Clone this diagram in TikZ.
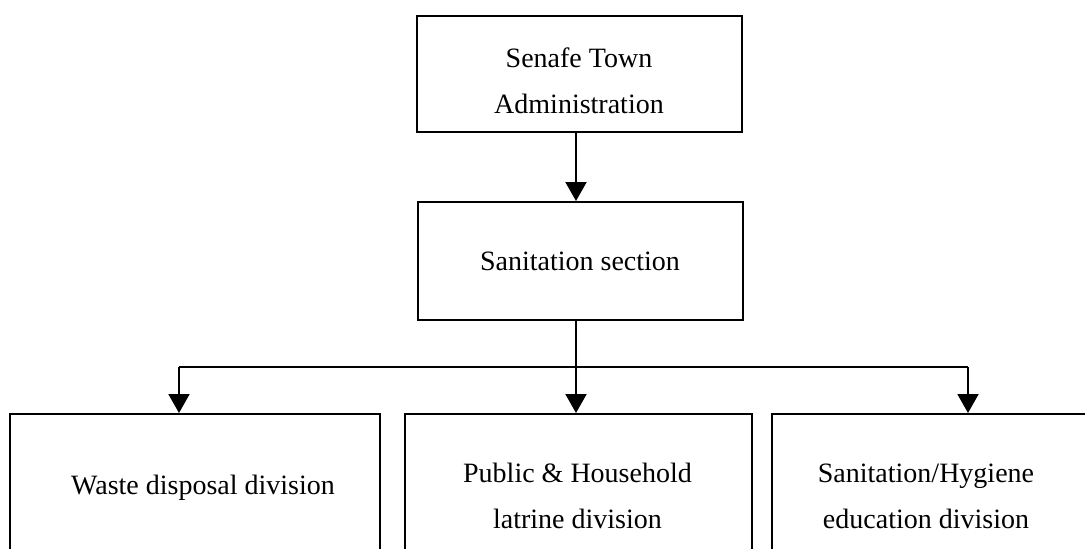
\documentclass[tikz,border=0pt]{standalone}
\usepackage{fontspec}
\setmainfont{Liberation Serif}
\usetikzlibrary{arrows.meta}
\tikzset{
  box/.style={draw=black, line width=2pt, rectangle, inner sep=0pt},
  lbl/.style={font=\fontsize{28}{46}\selectfont, align=center, anchor=base, inner sep=0pt},
  conn/.style={draw=black, line width=2pt},
  arr/.style={conn, -{Triangle[width=21pt,length=19pt]}}
}
\begin{document}
\begin{tikzpicture}[x=1pt,y=-1pt]
\useasboundingbox (0,0) rectangle (1085,549);
\clip (0,0) rectangle (1085,549);
\fill[white] (0,0) rectangle (1085,549);
% boxes
\node[box, minimum width=325pt, minimum height=116pt] (adm) at (579.5,74) {};
\node[box, minimum width=325pt, minimum height=118pt] (san) at (580.5,261) {};
\node[box, minimum width=370pt, minimum height=190pt] (waste) at (195,509) {};
\node[box, minimum width=347pt, minimum height=190pt] (latr) at (578.5,509) {};
\node[box, minimum width=323pt, minimum height=190pt] (edu) at (933.5,509) {};
% texts (anchor = baseline of the last line)
\node[lbl] (tadm) at (579,113) {Senafe Town\\Administration};
\node[lbl] (tsan) at (580,270) {Sanitation section};
\node[lbl] (twaste) at (203,494) {Waste disposal division};
\node[lbl] (tlatr) at (577.5,528) {Public \& Household\\latrine division};
\node[lbl] (tedu) at (926,528) {Sanitation/Hygiene\\education division};
% connector coordinates
\coordinate (xa) at (576,0);
\coordinate (jn) at (576,367);
\coordinate (jl) at (179,367);
\coordinate (jr) at (968,367);
% connectors
\draw[arr] (adm.south -| xa) -- (san.north -| xa);
\draw[conn] (san.south -| jn) -- (jn);
\draw[conn] (jl) -- (jr);
\draw[arr] (jl) -- (waste.north -| jl);
\draw[arr] (jn) -- (latr.north -| jn);
\draw[arr] (jr) -- (edu.north -| jr);
\end{tikzpicture}
\end{document}
